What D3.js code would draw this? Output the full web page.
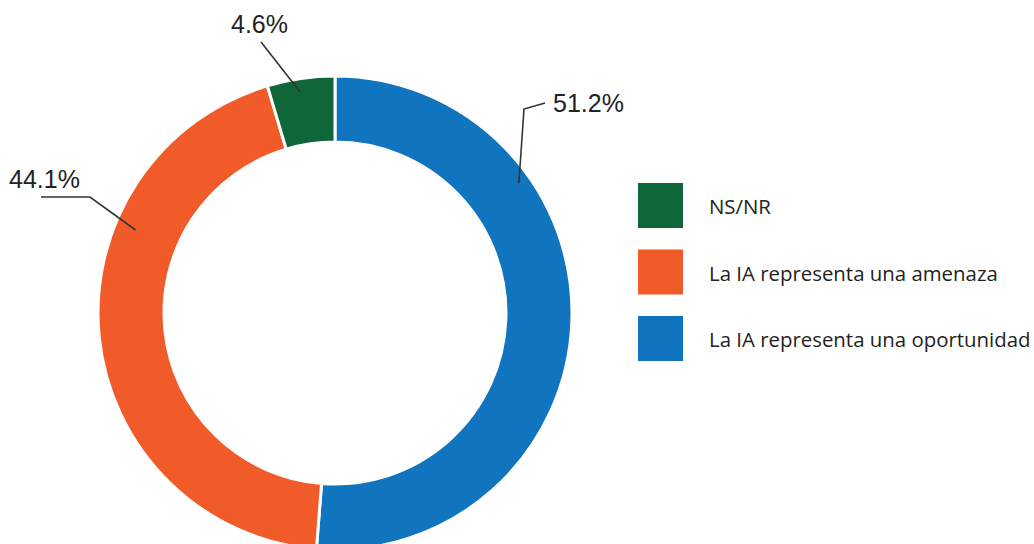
<!DOCTYPE html>
<html>
<head>
<meta charset="utf-8">
<script src="https://cdn.jsdelivr.net/npm/d3@7"></script>
<style>
  html, body { margin: 0; padding: 0; background: #fff; }
  svg { display: block; }
</style>
</head>
<body>
<svg id="chart" width="1034" height="544"></svg>
<script>
// Survey answers, drawn clockwise from 12 o'clock
const categories = ["La IA representa una oportunidad", "La IA representa una amenaza", "NS/NR"];
const values = [51.2, 44.1, 4.6];
const valueLabels = ["51.2%", "44.1%", "4.6%"];
const colors = ["#1174be", "#f15a29", "#0f6638"];
// Legend order, top to bottom
const legendOrder = ["NS/NR", "La IA representa una amenaza", "La IA representa una oportunidad"];

const svg = d3.select("#chart");
const cx = 335, cy = 313, outerR = 237, innerR = 171;

const pie = d3.pie().sort(null).value(d => d.value);
const arc = d3.arc().innerRadius(innerR).outerRadius(outerR);

const data = categories.map((c, i) => ({ category: c, value: values[i], label: valueLabels[i], color: colors[i] }));
const arcs = pie(data);

const g = svg.append("g").attr("transform", `translate(${cx},${cy})`);
g.selectAll("path")
  .data(arcs)
  .join("path")
  .attr("d", arc)
  .attr("fill", d => d.data.color)
  .attr("stroke", "#fff")
  .attr("stroke-width", 3)
  .attr("stroke-linejoin", "miter");

// Leader lines: a point inside the slice (angle in degrees from top, radius),
// then bends out to the value label.
const leaders = {
  "La IA representa una oportunidad": { a: 54.8, r: 225, path: [[524, 109], [545, 103]], text: [553, 112], anchor: "start" },
  "La IA representa una amenaza":     { a: 292.6, r: 216, path: [[90, 197], [41, 197]], text: [9, 188], anchor: "start" },
  "NS/NR":                            { a: -9.0, r: 224, path: [[261, 42]], text: [231, 33], anchor: "start" }
};

const line = d3.line();
arcs.forEach(d => {
  const L = leaders[d.data.category];
  const t = L.a * Math.PI / 180;
  const p0 = [cx + L.r * Math.sin(t), cy - L.r * Math.cos(t)];
  svg.append("path")
    .attr("d", line([p0, ...L.path]))
    .attr("fill", "none")
    .attr("stroke", "#333")
    .attr("stroke-width", 1.6);
  svg.append("text")
    .attr("x", L.text[0])
    .attr("y", L.text[1])
    .attr("text-anchor", L.anchor)
    .attr("font-family", "'Liberation Sans', Arial, sans-serif")
    .attr("font-size", 25)
    .attr("fill", "#222")
    .text(d.data.label);
});

// Legend
const colorOf = d3.scaleOrdinal().domain(categories).range(colors);
const legendY = d3.scalePoint().domain(legendOrder).range([183, 316]);
const legend = svg.append("g");
const items = legend.selectAll("g")
  .data(legendOrder)
  .join("g")
  .attr("transform", d => `translate(638,${legendY(d)})`);
items.append("rect")
  .attr("width", 45)
  .attr("height", 45)
  .attr("fill", d => colorOf(d));
items.append("text")
  .attr("x", 71)
  .attr("y", 31)
  .attr("font-family", "'Open Sans', 'Noto Sans', sans-serif")
  .attr("font-size", 20.4)
  .attr("fill", "#231f20")
  .text(d => d);
</script>
</body>
</html>
